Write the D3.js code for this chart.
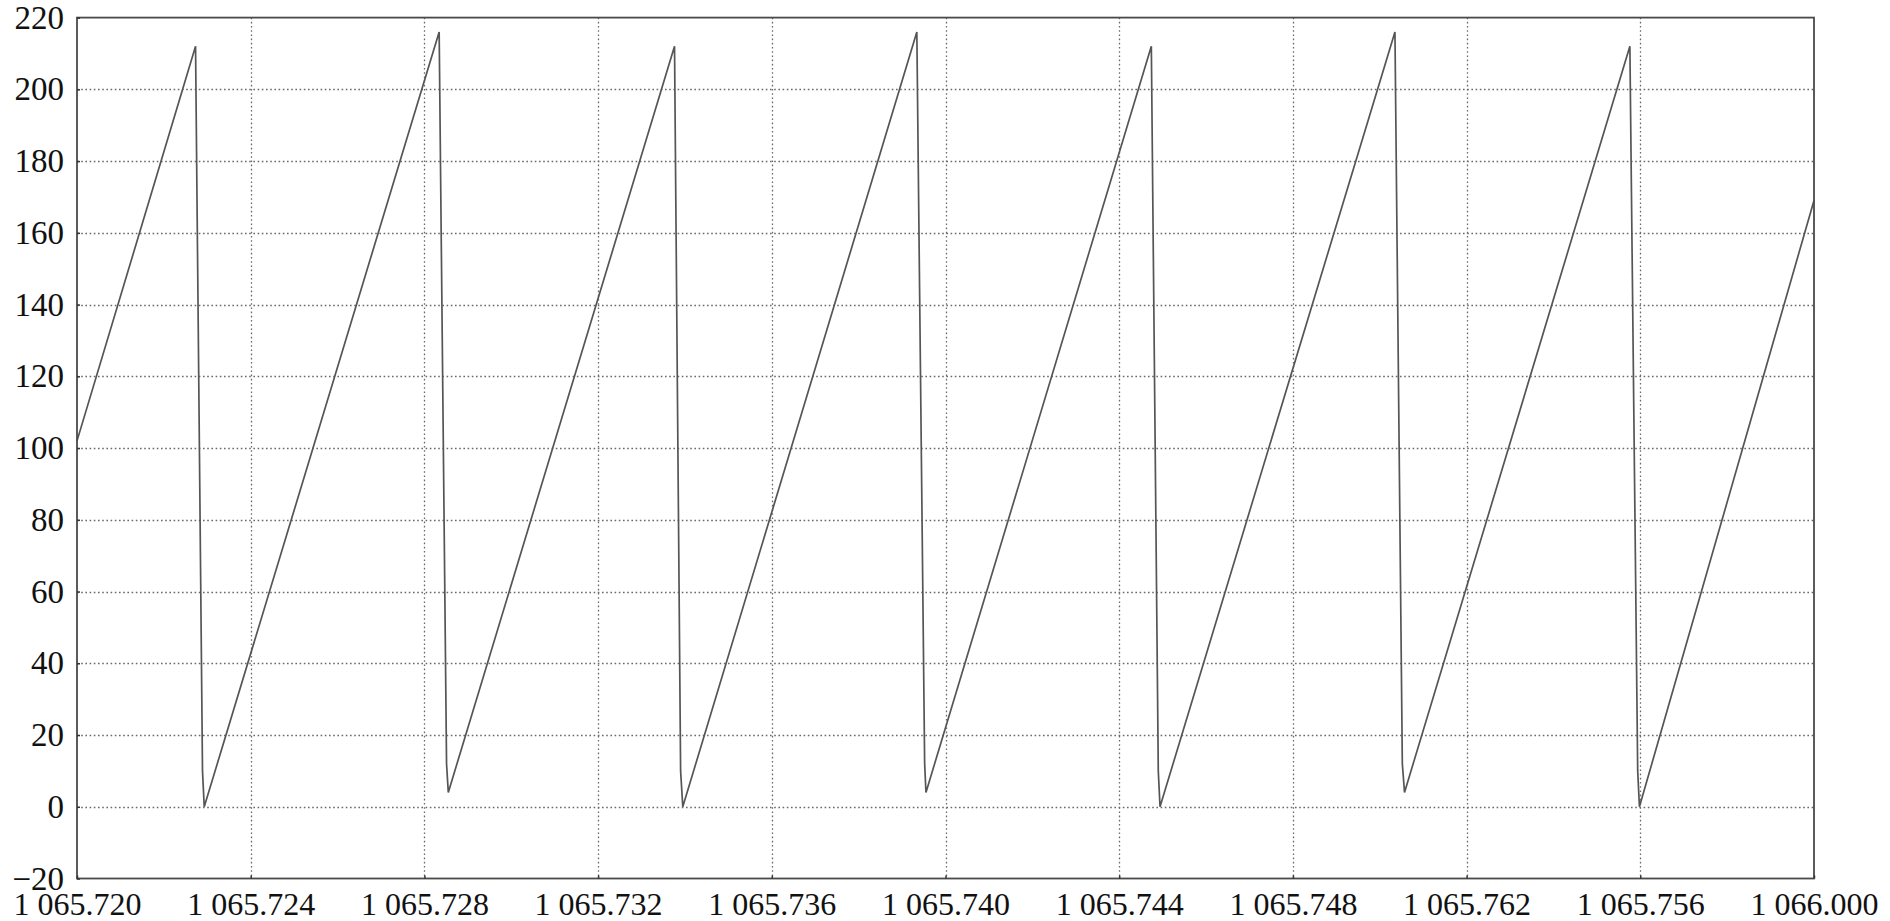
<!DOCTYPE html>
<html>
<head>
<meta charset="utf-8">
<script src="https://cdn.jsdelivr.net/npm/d3@7"></script>
<style>
  html, body { margin: 0; padding: 0; background: #fff; }
  svg { display: block; }
  text { font-family: "Liberation Serif", "Times New Roman", serif; fill: #111; }
</style>
</head>
<body>
<svg id="chart" width="1890" height="921"></svg>
<script>
// ---- data ----
const timeValues = [
  1065.72000, 1065.72273, 1065.72289, 1065.72293,
  1065.72834, 1065.72851, 1065.72855,
  1065.73376, 1065.73390, 1065.73395,
  1065.73934, 1065.73952, 1065.73955,
  1065.74474, 1065.74490, 1065.74494,
  1065.75035, 1065.75052, 1065.75057,
  1065.75576, 1065.75594, 1065.75598,
  1065.76000
];
const signalValues = [
  102, 212, 10, 0,
  216, 12, 4,
  212, 10, 0,
  216, 12, 4,
  212, 10, 0,
  216, 12, 4,
  212, 10, 0,
  169
];
const xTickValues = [1065.720, 1065.724, 1065.728, 1065.732, 1065.736, 1065.740,
                     1065.744, 1065.748, 1065.752, 1065.756, 1065.760];
const xTickLabels = ["1 065.720", "1 065.724", "1 065.728", "1 065.732", "1 065.736", "1 065.740",
                     "1 065.744", "1 065.748", "1 065.762", "1 065.756", "1 066.000"];
const yTickValues = [-20, 0, 20, 40, 60, 80, 100, 120, 140, 160, 180, 200, 220];
const yTickLabels = ["\u221220", "0", "20", "40", "60", "80", "100", "120", "140", "160", "180", "200", "220"];

// ---- layout ----
const plotLeft = 77, plotRight = 1814, plotTop = 17.6, plotBottom = 878.5;
const svg = d3.select("#chart");

const x = d3.scaleLinear().domain([1065.720, 1065.760]).range([plotLeft, plotRight]);
const y = d3.scaleLinear().domain([-20, 220]).range([plotBottom, plotTop]);

// grid
const grid = svg.append("g").attr("stroke", "#6a6a6a").attr("stroke-width", 1.3)
  .attr("stroke-dasharray", "1.6,2.6");
grid.selectAll("line.h").data(yTickValues.slice(1, -1)).enter().append("line")
  .attr("x1", plotLeft).attr("x2", plotRight)
  .attr("y1", d => Math.round(y(d)) + 0.5).attr("y2", d => Math.round(y(d)) + 0.5);
grid.selectAll("line.v").data(xTickValues.slice(1, -1)).enter().append("line")
  .attr("y1", plotTop).attr("y2", plotBottom)
  .attr("x1", d => Math.round(x(d)) + 0.5).attr("x2", d => Math.round(x(d)) + 0.5);

// data line
const line = d3.line().x((d, i) => x(timeValues[i])).y(d => y(d));
svg.append("path").datum(signalValues)
  .attr("d", line)
  .attr("fill", "none")
  .attr("stroke", "#555")
  .attr("stroke-width", 1.7)
  .attr("stroke-linejoin", "miter");

// frame
svg.append("rect")
  .attr("x", plotLeft).attr("y", plotTop)
  .attr("width", plotRight - plotLeft).attr("height", plotBottom - plotTop)
  .attr("fill", "none").attr("stroke", "#4a4a4a").attr("stroke-width", 1.8);

// axes
const xAxis = d3.axisBottom(x).tickValues(xTickValues)
  .tickFormat((d, i) => xTickLabels[i]).tickSizeInner(-3).tickSizeOuter(0).tickPadding(14);
const gx = svg.append("g").attr("transform", `translate(0,${plotBottom})`).call(xAxis);
gx.select(".domain").remove();
gx.selectAll(".tick line").attr("stroke", "#333").attr("stroke-width", 1.5);
gx.selectAll(".tick text").attr("font-size", 32).attr("fill", "#111")
  .attr("font-family", "Liberation Serif, serif").attr("dy", "0.71em");

const yAxis = d3.axisLeft(y).tickValues(yTickValues)
  .tickFormat((d, i) => yTickLabels[i]).tickSizeInner(-3).tickSizeOuter(0).tickPadding(13);
const gy = svg.append("g").attr("transform", `translate(${plotLeft},0)`).call(yAxis);
gy.select(".domain").remove();
gy.selectAll(".tick line").attr("stroke", "#333").attr("stroke-width", 1.5);
gy.selectAll(".tick text").attr("font-size", 33).attr("fill", "#111")
  .attr("font-family", "Liberation Serif, serif");
</script>
</body>
</html>
